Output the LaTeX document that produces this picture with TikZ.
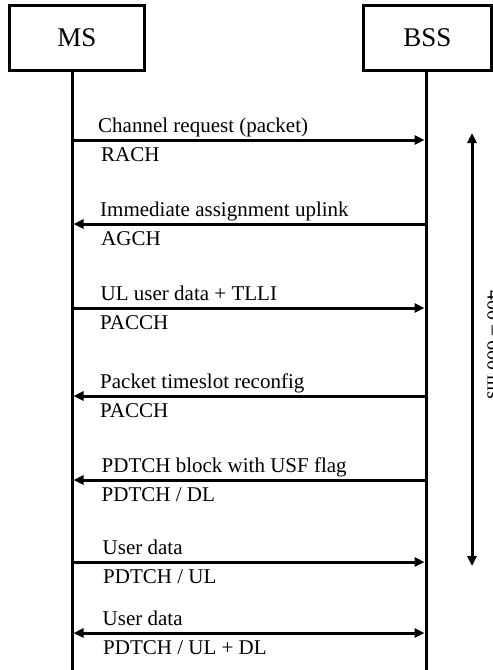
\documentclass[tikz,border=0pt]{standalone}
\usepackage{fontspec}
\setmainfont{Liberation Serif}
\usetikzlibrary{arrows.meta}
\begin{document}
\begin{tikzpicture}[x=1pt,y=-1pt,
  lbl/.style={font=\fontsize{21}{25}\selectfont, anchor=base west, inner sep=0pt},
  hdr/.style={draw, line width=3pt, inner sep=0pt, font=\fontsize{27}{32}\selectfont},
  life/.style={line width=3pt},
  tip/.tip={Triangle[length=10pt,width=9pt]},
  msg/.style={line width=3pt, shorten >=1.5pt, -tip},
  dmsg/.style={line width=3pt, shorten >=1.5pt, shorten <=1.5pt, tip-tip},
  ]
\useasboundingbox (0,0) rectangle (493,670);
% header boxes
\node[hdr, minimum width=135pt, minimum height=65pt] (ms) at (77,38) {MS};
\node[hdr, minimum width=127.5pt, minimum height=65pt] (bss) at (427.3,38) {BSS};
% lifelines
\coordinate (msend) at (72,670);
\coordinate (bssend) at (426,670);
\draw[life] (msend |- ms.south) -- (msend);
\draw[life] (bssend |- bss.south) -- (bssend);
% message anchors
\foreach \i/\y in {1/140,2/224,3/308,4/396,5/480,6/562,7/633}{
  \coordinate (a\i) at (72,\y);
  \coordinate (b\i) at (426,\y);
}
\draw[msg] (a1) -- (b1);
\draw[msg] (b2) -- (a2);
\draw[msg] (a3) -- (b3);
\draw[msg] (b4) -- (a4);
\draw[msg] (b5) -- (a5);
\draw[msg] (a6) -- (b6);
\draw[dmsg] (a7) -- (b7);
% labels
\node[lbl] (t1) at (98,132) {Channel request (packet)};
\node[lbl] (u1) at (101,161) {RACH};
\node[lbl] (t2) at (100,216) {Immediate assignment uplink};
\node[lbl] (u2) at (101,245) {AGCH};
\node[lbl] (t3) at (100.5,300) {UL user data + TLLI};
\node[lbl] (u3) at (100,329) {PACCH};
\node[lbl] (t4) at (100,388) {Packet timeslot reconfig};
\node[lbl] (u4) at (100,417) {PACCH};
\node[lbl] (t5) at (101.5,472) {PDTCH block with USF flag};
\node[lbl] (u5) at (101.5,501) {PDTCH / DL};
\node[lbl] (t6) at (102.5,554) {User data};
\node[lbl] (u6) at (103,583) {PDTCH / UL};
\node[lbl] (t7) at (102.5,625) {User data};
\node[lbl] (u7) at (103,654) {PDTCH / UL + DL};
% timing arrow
\coordinate (vt) at (472,133);
\coordinate (vb) at (472,566);
\draw[line width=3pt, tip-tip] (vt) -- (vb);
\node[font=\fontsize{20}{24}\selectfont, rotate=-90, anchor=base, inner sep=0pt] (tm) at (487.5,345) {400 – 600 ms};
\end{tikzpicture}
\end{document}
